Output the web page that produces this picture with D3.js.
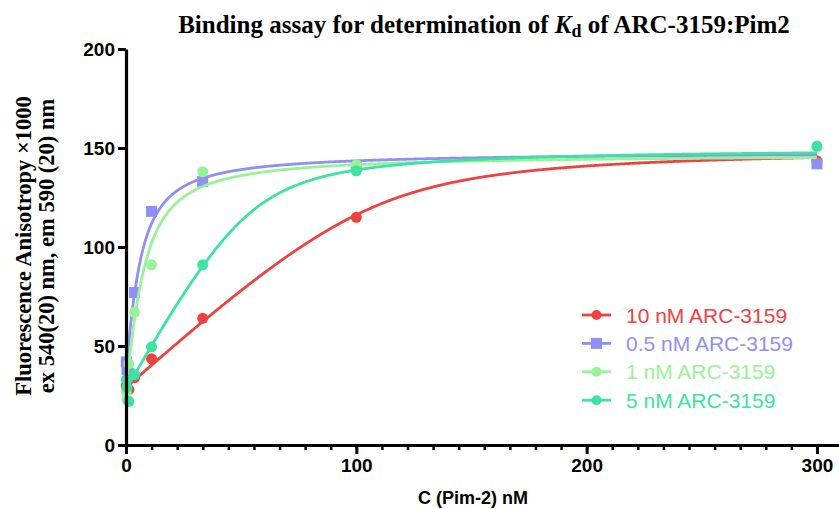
<!DOCTYPE html>
<html>
<head>
<meta charset="utf-8">
<script src="https://cdn.jsdelivr.net/npm/d3@7/dist/d3.min.js"></script>
<style>
  body { margin: 0; background: #ffffff; }
  svg { display: block; }
</style>
</head>
<body>
<svg id="chart" width="839" height="509"></svg>
<script>
// Pim-2 concentration series (nM)
const concentrations = [0.137, 0.41, 1.23, 3.7, 11.1, 33.3, 100, 300];

const seriesNames = ["10 nM ARC-3159", "0.5 nM ARC-3159", "1 nM ARC-3159", "5 nM ARC-3159"];
const seriesColors = ["#f04141", "#8f8ff6", "#97f397", "#3de3a0"];
const seriesShapes = ["circle", "square", "circle", "circle"];

// Fluorescence anisotropy x1000 for each ARC-3159 concentration
const anisotropy10nM = [30, 29, 28, 34, 43.5, 64, 115, 143.5];
const anisotropy05nM = [42, 38, 36, 77, 118, 133, 141, 142];
const anisotropy1nM  = [27, 23, 41, 67, 91, 138, 141.5, 150.5];
const anisotropy5nM  = [33, 29, 22, 35.5, 49.6, 91, 138.5, 151];

// Quadratic (ligand depletion) binding fit parameters per series
const fitBottom = [29, 36, 28, 28];
const fitTop    = [150, 148, 147, 150];
const fitKd     = [8, 4, 4.5, 5];
const fitLt     = [110, 4, 6, 55];

const xTicks = [0, 100, 200, 300];
const yTicks = [0, 50, 100, 150, 200];

const allSeries = [anisotropy10nM, anisotropy05nM, anisotropy1nM, anisotropy5nM];

const svg = d3.select("#chart");

const x = d3.scaleLinear().domain([0, 310]).range([126, 840]);
const y = d3.scaleLinear().domain([0, 200]).range([445, 49]);

function bindingFit(i, p) {
  const L = fitLt[i], K = fitKd[i];
  const b = L + p + K;
  const frac = (b - Math.sqrt(b * b - 4 * L * p)) / (2 * L);
  return fitBottom[i] + (fitTop[i] - fitBottom[i]) * frac;
}

// Fitted curves and data points
const line = d3.line().x(d => x(d[0])).y(d => y(d[1]));
const curveX = d3.range(0, 300.01, 0.25);

const plot = svg.append("g");

allSeries.forEach((vals, i) => {
  const g = plot.append("g");
  g.append("path")
    .attr("d", line(curveX.map(p => [p, bindingFit(i, p)])))
    .attr("fill", "none")
    .attr("stroke", seriesColors[i])
    .attr("stroke-width", 2.8);

  const pts = concentrations.map((c, k) => [c, vals[k]]);
  if (seriesShapes[i] === "square") {
    g.selectAll("rect").data(pts).join("rect")
      .attr("x", d => x(d[0]) - 5.5)
      .attr("y", d => y(d[1]) - 5.5)
      .attr("width", 11).attr("height", 11)
      .attr("fill", seriesColors[i]);
  } else {
    g.selectAll("circle").data(pts).join("circle")
      .attr("cx", d => x(d[0]))
      .attr("cy", d => y(d[1]))
      .attr("r", 5.5)
      .attr("fill", seriesColors[i]);
  }
});

// Axes
const axisFont = "Liberation Sans, Arial, sans-serif";

const xMinor = svg.append("g")
  .attr("transform", "translate(0,445)")
  .call(d3.axisBottom(x).tickValues(d3.range(0, 305, 100 / 9)).tickSize(5).tickFormat(""));
xMinor.select(".domain").remove();
xMinor.selectAll("line").attr("stroke", "#000").attr("stroke-width", 2.5);

const xAxis = svg.append("g")
  .attr("transform", "translate(0,445)")
  .call(d3.axisBottom(x).tickValues(xTicks).tickSize(9).tickSizeOuter(0).tickPadding(5));
xAxis.select(".domain").attr("stroke", "#000").attr("stroke-width", 3.2)
  .attr("d", `M${x(0) - 1.5},0.5H839`);
xAxis.selectAll("line").attr("stroke", "#000").attr("stroke-width", 3);
xAxis.selectAll("text")
  .attr("font-family", axisFont).attr("font-weight", "bold").attr("font-size", 19).attr("fill", "#000");

const yAxis = svg.append("g")
  .attr("transform", "translate(126,0)")
  .call(d3.axisLeft(y).tickValues(yTicks).tickSize(8).tickSizeOuter(0).tickPadding(3));
yAxis.select(".domain").attr("stroke", "#000").attr("stroke-width", 3.2);
yAxis.selectAll("line").attr("stroke", "#000").attr("stroke-width", 3);
yAxis.selectAll("text")
  .attr("font-family", axisFont).attr("font-weight", "bold").attr("font-size", 19).attr("fill", "#000");

// Title
const serif = "Liberation Serif, Times New Roman, serif";
const title = svg.append("text")
  .attr("x", 484).attr("y", 33)
  .attr("text-anchor", "middle")
  .attr("font-family", serif).attr("font-weight", "bold").attr("font-size", 25);
title.append("tspan").text("Binding assay for determination of ");
title.append("tspan").attr("font-style", "italic").text("K");
title.append("tspan").attr("font-size", 18).attr("dy", 4).text("d");
title.append("tspan").attr("dy", -4).text(" of ARC-3159:Pim2");

// Y-axis label
const yLab = svg.append("g").attr("transform", "translate(0,246) rotate(-90)");
yLab.append("text")
  .attr("x", 0).attr("y", 31)
  .attr("text-anchor", "middle")
  .attr("font-family", serif).attr("font-weight", "bold").attr("font-size", 22.5)
  .text("Fluorescence Anisotropy \u00d71000");
yLab.append("text")
  .attr("x", 0).attr("y", 54)
  .attr("text-anchor", "middle")
  .attr("font-family", serif).attr("font-weight", "bold").attr("font-size", 22.5)
  .text("ex 540(20) nm, em 590 (20) nm");

// X-axis label
svg.append("text")
  .attr("x", 473).attr("y", 504)
  .attr("text-anchor", "middle")
  .attr("font-family", axisFont).attr("font-weight", "bold").attr("font-size", 18)
  .text("C (Pim-2) nM");

// Legend
const legend = svg.append("g");
seriesNames.forEach((name, i) => {
  const ly = 315 + i * 28.4;
  const g = legend.append("g");
  g.append("line")
    .attr("x1", 582).attr("x2", 611).attr("y1", ly).attr("y2", ly)
    .attr("stroke", seriesColors[i]).attr("stroke-width", 2.8);
  if (seriesShapes[i] === "square") {
    g.append("rect").attr("x", 596.5 - 5.5).attr("y", ly - 5.5)
      .attr("width", 11).attr("height", 11).attr("fill", seriesColors[i]);
  } else {
    g.append("circle").attr("cx", 596.5).attr("cy", ly).attr("r", 5)
      .attr("fill", seriesColors[i]);
  }
  g.append("text")
    .attr("x", 626).attr("y", ly)
    .attr("dy", "0.36em")
    .attr("font-family", axisFont).attr("font-size", 21)
    .attr("fill", seriesColors[i])
    .text(name);
});
</script>
</body>
</html>
